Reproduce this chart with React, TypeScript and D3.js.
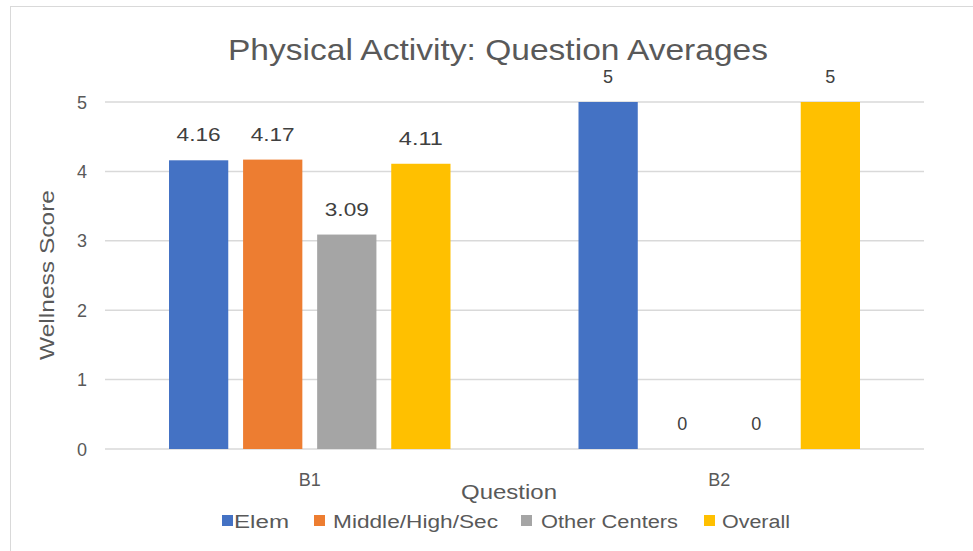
import React from "react";
import * as d3 from "d3";

const categories = ["B1", "B2"];
const seriesNames = ["Elem", "Middle/High/Sec", "Other Centers", "Overall"];
const elem = [4.16, 5];
const middle = [4.17, 0];
const other = [3.09, 0];
const overall = [4.11, 5];
const yTicks = [0, 1, 2, 3, 4, 5];
const colors = ["#4472C4", "#ED7D31", "#A5A5A5", "#FFC000"];

const W = 973;
const H = 551;
const FONT = "'Liberation Sans', Arial, sans-serif";

export default function App() {
  const series = [elem, middle, other, overall];
  const x0 = d3.scaleBand<string>().domain(categories).range([105, 924]).paddingInner(0).paddingOuter(0);
  const x1 = d3
    .scaleBand<string>()
    .domain(seriesNames)
    .range([64, x0.bandwidth() - 64])
    .paddingInner(0.2)
    .paddingOuter(0.0);
  const y = d3.scaleLinear().domain([0, 5]).range([449, 102]);

  const legendItems = [
    { name: seriesNames[0], sx: 222, tx: 234, len: 55 },
    { name: seriesNames[1], sx: 314, tx: 333, len: 165 },
    { name: seriesNames[2], sx: 521, tx: 541, len: 137 },
    { name: seriesNames[3], sx: 704, tx: 722, len: 68 },
  ];

  return (
    <svg width={W} height={H} style={{ position: "absolute", left: 0, top: 0 }} fontFamily={FONT}>
      <rect x={0} y={0} width={W} height={H} fill="#fff" />
      <rect x={10.5} y={6.5} width={W + 10} height={H + 10} fill="none" stroke="#d9d9d9" strokeWidth={1} />
      <text x={498} y={60} textAnchor="middle" fontSize={29} fill="#595959" textLength={540} lengthAdjust="spacingAndGlyphs">
        Physical Activity: Question Averages
      </text>
      {yTicks.map((t) => (
        <g key={t}>
          <line x1={105} x2={924} y1={y(t)} y2={y(t)} stroke="#d9d9d9" strokeWidth={1.5} />
          <text x={82} y={y(t) + 6.5} textAnchor="middle" fontSize={18} fill="#595959">
            {t}
          </text>
        </g>
      ))}
      {categories.map((c, ci) => (
        <g key={c} transform={`translate(${x0(c)},0)`}>
          {series.map((s, si) => {
            const v = s[ci];
            const bx = x1(seriesNames[si])!;
            const bw = x1.bandwidth();
            const label = String(v);
            return (
              <g key={si}>
                {v > 0 && <rect x={bx} y={y(v)} width={bw} height={y(0) - y(v)} fill={colors[si]} />}
                <text
                  x={bx + bw / 2}
                  y={y(v) - 19}
                  textAnchor="middle"
                  fontSize={18}
                  fill="#404040"
                  textLength={label.length > 1 ? 44 : undefined}
                  lengthAdjust="spacingAndGlyphs"
                >
                  {label}
                </text>
              </g>
            );
          })}
          <text x={x0.bandwidth() / 2} y={486} textAnchor="middle" fontSize={18} fill="#595959">
            {c}
          </text>
        </g>
      ))}
      <text x={509} y={499} textAnchor="middle" fontSize={21} fill="#595959" textLength={96} lengthAdjust="spacingAndGlyphs">
        Question
      </text>
      <text
        transform="translate(54,275) rotate(-90)"
        textAnchor="middle"
        fontSize={21}
        fill="#595959"
        textLength={170}
        lengthAdjust="spacingAndGlyphs"
      >
        Wellness Score
      </text>
      {legendItems.map((l, i) => (
        <g key={l.name}>
          <rect x={l.sx} y={515} width={11} height={11} fill={colors[i]} />
          <text x={l.tx} y={528} fontSize={18} fill="#595959" textLength={l.len} lengthAdjust="spacingAndGlyphs">
            {l.name}
          </text>
        </g>
      ))}
    </svg>
  );
}
